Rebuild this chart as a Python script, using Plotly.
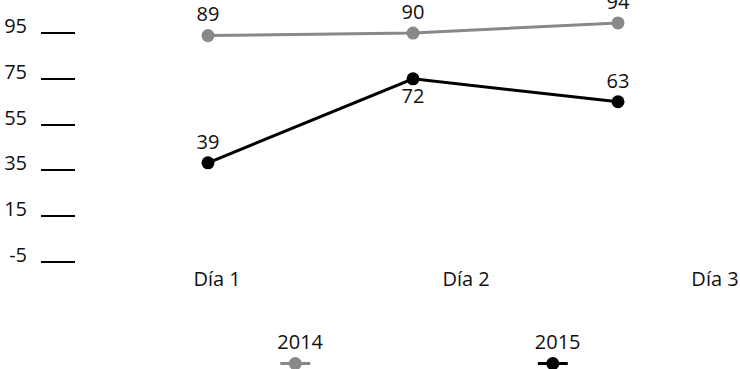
import plotly.graph_objects as go

days = ["Día 1", "Día 2", "Día 3"]
series_names = ["2014", "2015"]
values_2014 = [89, 90, 94]
values_2015 = [39, 72, 63]
ytick_text = ["-5", "15", "35", "55", "75", "95"]

FONT = "Open Sans"
idx = list(range(len(days)))

fig = go.Figure()
fig.add_trace(go.Scatter(
    x=idx, y=values_2014, mode="lines+markers+text", name="",
    text=[str(v) for v in values_2014], textposition="top center",
    line=dict(color="#888888", width=3), marker=dict(color="#888888", size=13),
    textfont=dict(family=FONT, size=20, color="#111111"),
    cliponaxis=False, legend="legend",
))
fig.add_trace(go.Scatter(
    x=idx, y=values_2015, mode="lines+markers+text", name="",
    text=[str(v) for v in values_2015],
    textposition=["top center", "bottom center", "top center"],
    line=dict(color="#000000", width=3), marker=dict(color="#000000", size=13),
    textfont=dict(family=FONT, size=20, color="#111111"),
    cliponaxis=False, legend="legend2",
))

ytick_vals = [i * 18 for i in range(len(ytick_text))]
xtick_vals = [0.044 + i * 1.2146 for i in idx]

legend_common = dict(xref="container", yref="paper", y=-0.219,
                     xanchor="left", yanchor="top", bgcolor="rgba(0,0,0,0)",
                     font=dict(size=10))

fig.update_layout(
    width=740, height=369,
    margin=dict(l=76, r=0, t=0, b=104, autoexpand=False),
    paper_bgcolor="white", plot_bgcolor="white",
    font=dict(family=FONT, size=20, color="#111111"),
    xaxis=dict(range=[-0.644, 2.595], showgrid=False, zeroline=False,
               showline=False, ticks="", tickvals=xtick_vals, ticktext=days,
               tickangle=0, tickfont=dict(size=20)),
    yaxis=dict(range=[-1.18, 103.0], showgrid=False, zeroline=False,
               showline=False, ticks="outside", ticklen=34, tickwidth=2,
               tickcolor="#000000", tickvals=ytick_vals, ticktext=ytick_text,
               ticklabelstandoff=10, ticklabelshift=-7,
               tickfont=dict(size=20)),
    legend=dict(title=dict(text=series_names[0], side="top", font=dict(size=20)),
                x=0.372, **legend_common),
    legend2=dict(title=dict(text=series_names[1], side="top", font=dict(size=20)),
                 x=0.72, **legend_common),
    showlegend=True,
)

fig.write_html("out.html")
